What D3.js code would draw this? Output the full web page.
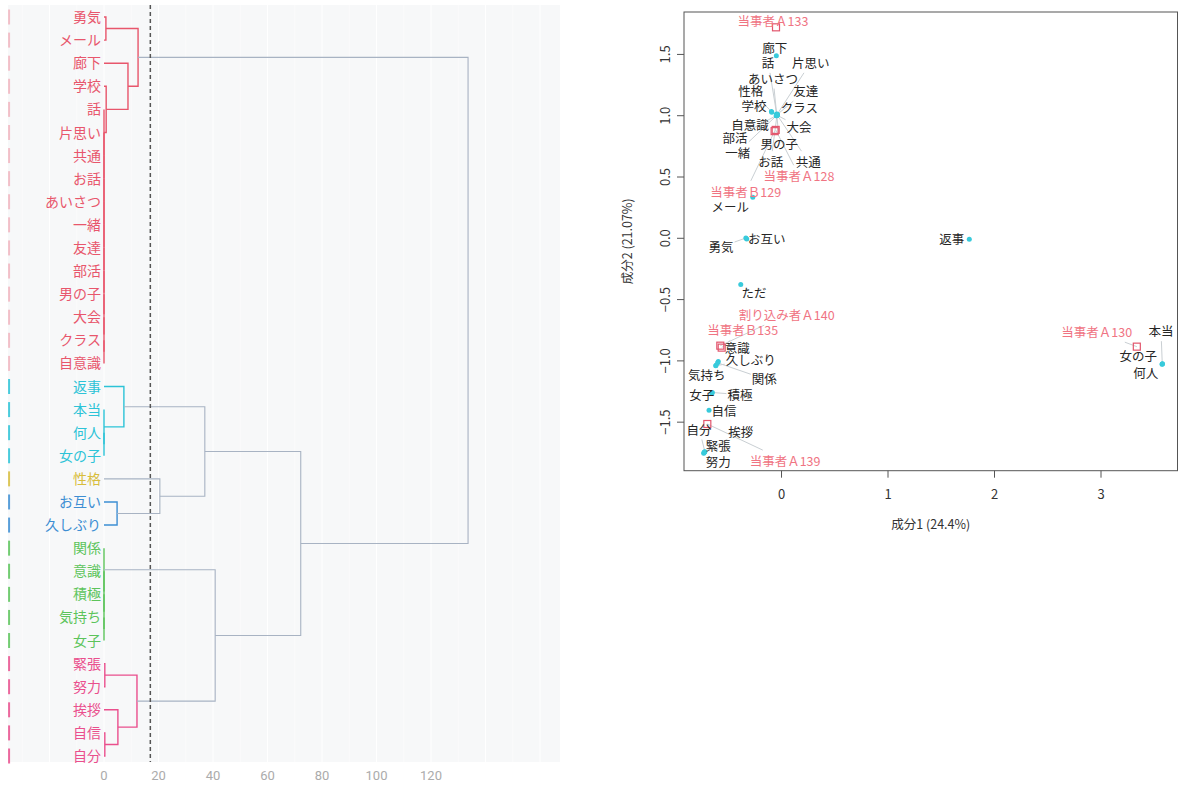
<!DOCTYPE html>
<html>
<head>
<meta charset="utf-8">
<script src="https://cdn.jsdelivr.net/npm/d3@7"></script>
<style>
  body { margin: 0; background: #ffffff; }
  svg { display: block; }
</style>
</head>
<body>
<svg id="chart" width="1180" height="785"></svg>
<script>
// ---------- Dendrogram data (leaf order top to bottom) ----------
const leaves = [
  "勇気", "メール", "廊下", "学校", "話", "片思い", "共通", "お話", "あいさつ",
  "一緒", "友達", "部活", "男の子", "大会", "クラス", "自意識",
  "返事", "本当", "何人", "女の子",
  "性格",
  "お互い", "久しぶり",
  "関係", "意識", "積極", "気持ち", "女子",
  "緊張", "努力", "挨拶", "自信", "自分"
];
// consecutive leaves per cluster, in leaf order
const clusterSizes = [16, 4, 1, 2, 5, 5];
const clusterColors = ["#E8566C", "#2CC3D7", "#D8BD3C", "#3D8ED3", "#5CC45B", "#EA4F8D"];
// merge list: [left, right, height]; strings are leaves, numbers refer to earlier merges
const merges = [
  ["クラス", "自意識", 0],   // 0
  ["大会", 0, 0],            // 1
  ["男の子", 1, 0],          // 2
  ["部活", 2, 0],            // 3
  ["友達", 3, 0],            // 4
  ["一緒", 4, 0],            // 5
  ["あいさつ", 5, 0],        // 6
  ["お話", 6, 0],            // 7
  ["共通", 7, 0],            // 8
  ["片思い", 8, 0],          // 9
  ["話", 9, 0],              // 10
  ["学校", 10, 0.8],         // 11
  ["廊下", 11, 8.8],         // 12
  ["勇気", "メール", 0.7],   // 13
  [13, 12, 12.5],            // 14
  ["何人", "女の子", 0],     // 15
  ["本当", 15, 0],           // 16
  ["返事", 16, 7.3],         // 17
  ["お互い", "久しぶり", 4.8], // 18
  ["性格", 18, 20.5],        // 19
  [17, 19, 37.0],            // 20
  ["気持ち", "女子", 0],     // 21
  ["積極", 21, 0],           // 22
  ["意識", 22, 0],           // 23
  ["関係", 23, 0],           // 24
  ["緊張", "努力", 0.3],     // 25
  ["自信", "自分", 0.3],     // 26
  ["挨拶", 26, 5.1],         // 27
  [25, 27, 12.1],            // 28
  [24, 28, 40.8],            // 29
  [20, 29, 72.2],            // 30
  [14, 30, 133.6]            // 31
];
const heightTicks = [0, 20, 40, 60, 80, 100, 120];
const cutHeight = 17;

// ---------- Correspondence analysis data ----------
const words = [
  "廊下", "話", "片思い", "あいさつ", "性格", "友達", "学校", "クラス", "自意識", "大会",
  "部活", "男の子", "一緒", "お話", "共通", "メール", "お互い", "勇気", "返事", "ただ",
  "意識", "久しぶり", "気持ち", "関係", "女子", "積極", "自信", "自分", "挨拶", "緊張",
  "努力", "本当", "女の子", "何人"
];
const wordDim1 = [
  -0.044, -0.040, -0.036, -0.041, -0.090, -0.035, -0.087, -0.034, -0.045, -0.037,
  -0.042, -0.039, -0.043, -0.038, -0.036, -0.265, -0.322, -0.330, 1.768, -0.378,
  -0.589, -0.613, -0.610, -0.595, -0.650, -0.645, -0.676, -0.715, -0.720, -0.723,
  -0.726, 3.580, 3.578, 3.582
];
const wordDim2 = [
  1.485, 1.005, 1.008, 1.010, 1.030, 1.006, 1.024, 1.003, 0.995, 1.000,
  0.998, 1.002, 0.996, 0.999, 1.001, 0.330, -0.010, -0.002, -0.012, -0.380,
  -1.010, -1.044, -1.040, -1.020, -1.268, -1.262, -1.406, -1.745, -1.748, -1.753,
  -1.758, -1.029, -1.031, -1.027
];
// label anchor positions (repelled layout), in the same component units
const wordLabelDim1 = [
  -0.059, -0.122, 0.279, -0.075, -0.285, 0.232, -0.254, 0.172, -0.291, 0.169,
  -0.432, -0.016, -0.407, -0.097, 0.256, -0.476, -0.134, -0.563, 1.603, -0.254,
  -0.410, -0.285, -0.698, -0.157, -0.745, -0.385, -0.535, -0.770, -0.378, -0.589,
  -0.589, 3.568, 3.355, 3.424
];
const wordLabelDim2 = [
  1.542, 1.423, 1.423, 1.295, 1.192, 1.192, 1.075, 1.056, 0.920, 0.896,
  0.806, 0.765, 0.689, 0.613, 0.613, 0.249, -0.010, -0.081, -0.012, -0.453,
  -0.907, -1.002, -1.127, -1.160, -1.288, -1.288, -1.418, -1.568, -1.590, -1.704,
  -1.834, -0.766, -0.970, -1.105
];

const docs = ["当事者Ａ133", "当事者Ａ128", "当事者Ｂ129", "当事者Ａ130", "割り込み者Ａ140", "当事者Ｂ135", "当事者Ａ139"];
const docDim1 = [-0.047, -0.050, -0.060, 3.341, -0.570, -0.557, -0.692];
const docDim2 = [1.717, 0.880, 0.870, -0.888, -0.880, -0.896, -1.519];
const docLabelDim1 = [-0.075, 0.169, -0.331, 2.964, 0.054, -0.360, 0.038];
const docLabelDim2 = [1.763, 0.498, 0.371, -0.774, -0.635, -0.760, -1.826];

const dim1Ticks = [0, 1, 2, 3];
const dim2Ticks = [-1.5, -1.0, -0.5, 0.0, 0.5, 1.0, 1.5];
const dim1Title = "成分1 (24.4%)";
const dim2Title = "成分2 (21.07%)";

const svg = d3.select("#chart");
const jpFont = "'Noto Sans CJK JP', 'Noto Sans', sans-serif";

// ================= Dendrogram =================
const dx = d3.scaleLinear().domain([0, 120]).range([104, 431]);
const dy = d3.scalePoint().domain(leaves).range([17, 756]);
const panel = { x0: dx(-35.2), x1: dx(167.3), y0: 5, y1: 762 };

const dend = svg.append("g");
dend.append("rect")
  .attr("x", panel.x0).attr("y", panel.y0)
  .attr("width", panel.x1 - panel.x0).attr("height", panel.y1 - panel.y0)
  .attr("fill", "#F7F8F9");

dend.append("g").selectAll("line")
  .data(d3.range(-30, 170, 10))
  .join("line")
  .attr("x1", d => dx(d)).attr("x2", d => dx(d))
  .attr("y1", panel.y0).attr("y2", panel.y1)
  .attr("stroke", "#ffffff")
  .attr("stroke-width", d => d % 20 === 0 ? 1 : 0.5);

// cluster of each leaf
const leafCluster = {};
{
  let k = 0;
  clusterSizes.forEach((n, ci) => { for (let i = 0; i < n; i++) leafCluster[leaves[k++]] = ci; });
}

const nodes = [];
function resolve(ref) {
  if (typeof ref === "string") return { x: dx(0), y: dy(ref), cluster: leafCluster[ref] };
  return nodes[ref];
}
merges.forEach(([a, b, h]) => {
  const A = resolve(a), B = resolve(b);
  const cl = (A.cluster !== null && A.cluster === B.cluster) ? A.cluster : null;
  nodes.push({ x: dx(h), y: (A.y + B.y) / 2, cluster: cl, A, B });
});

// rug marks at the left edge
dend.append("g").selectAll("line")
  .data(leaves)
  .join("line")
  .attr("x1", panel.x0 + 1).attr("x2", panel.x0 + 1)
  .attr("y1", d => dy(d) - 7.5).attr("y2", d => dy(d) + 7.5)
  .attr("stroke", d => clusterColors[leafCluster[d]])
  .attr("stroke-opacity", d => leafCluster[d] === 0 ? 0.35 : 0.85)
  .attr("stroke-width", 2);

// branches: gray above the cut, cluster-coloured inside a cluster
dend.append("g").selectAll("path")
  .data(nodes)
  .join("path")
  .attr("d", n => `M${n.A.x},${n.A.y}H${n.x}V${n.B.y}H${n.B.x}`)
  .attr("fill", "none")
  .attr("stroke", n => n.cluster === null ? "#A8B3C3" : clusterColors[n.cluster])
  .attr("stroke-width", n => n.cluster === null ? 1.1 : 1.4);

// cut line
dend.append("line")
  .attr("x1", dx(cutHeight)).attr("x2", dx(cutHeight))
  .attr("y1", panel.y0).attr("y2", panel.y1)
  .attr("stroke", "#555")
  .attr("stroke-width", 1.5)
  .attr("stroke-dasharray", "4,3");

// leaf labels
dend.append("g").selectAll("text")
  .data(leaves)
  .join("text")
  .attr("x", dx(0) - 3)
  .attr("y", d => dy(d))
  .attr("dy", "0.36em")
  .attr("text-anchor", "end")
  .attr("font-family", jpFont)
  .attr("font-size", 14)
  .attr("fill", d => clusterColors[leafCluster[d]])
  .text(d => d);

// height axis labels
dend.append("g").selectAll("text")
  .data(heightTicks)
  .join("text")
  .attr("x", d => dx(d))
  .attr("y", 775)
  .attr("dy", "0.36em")
  .attr("text-anchor", "middle")
  .attr("font-family", "Roboto, sans-serif")
  .attr("font-size", 13)
  .attr("fill", "#ABABAB")
  .text(d => d);

// ================= Correspondence analysis plot =================
const sx = d3.scaleLinear().domain([-0.911, 3.723]).range([684, 1177.5]);
const sy = d3.scaleLinear().domain([-1.900, 1.842]).range([470.7, 12]);

const ca = svg.append("g");
ca.append("rect")
  .attr("x", sx.range()[0]).attr("y", sy.range()[1])
  .attr("width", sx.range()[1] - sx.range()[0])
  .attr("height", sy.range()[0] - sy.range()[1])
  .attr("fill", "none").attr("stroke", "#555").attr("stroke-width", 1);

const xAxis = ca.append("g")
  .attr("transform", `translate(0,${sy.range()[0]})`)
  .call(d3.axisBottom(sx).tickValues(dim1Ticks).tickSize(7).tickPadding(12).tickFormat(d3.format("d")));
xAxis.select(".domain").remove();

const yAxis = ca.append("g")
  .attr("transform", `translate(${sx.range()[0]},0)`)
  .call(d3.axisLeft(sy).tickValues(dim2Ticks).tickSize(7).tickFormat(d3.format(".1f")));
yAxis.select(".domain").remove();
yAxis.selectAll("text")
  .attr("x", 0).attr("y", -14).attr("dy", 0)
  .attr("text-anchor", "middle")
  .attr("transform", "rotate(-90)");

[xAxis, yAxis].forEach(g => {
  g.selectAll("line").attr("stroke", "#555");
  g.selectAll("text").attr("font-family", jpFont).attr("font-size", 13).attr("fill", "#333");
});

ca.append("text")
  .attr("x", (sx.range()[0] + sx.range()[1]) / 2).attr("y", 529)
  .attr("text-anchor", "middle")
  .attr("font-family", jpFont).attr("font-size", 12.5).attr("fill", "#333")
  .text(dim1Title);
ca.append("text")
  .attr("transform", `translate(632,${(sy.range()[0] + sy.range()[1]) / 2}) rotate(-90)`)
  .attr("text-anchor", "middle")
  .attr("font-family", jpFont).attr("font-size", 12.5).attr("fill", "#333")
  .text(dim2Title);

const items = [
  ...words.map((t, i) => ({ t, kind: "word", x: wordDim1[i], y: wordDim2[i], lx: wordLabelDim1[i], ly: wordLabelDim2[i] })),
  ...docs.map((t, i) => ({ t, kind: "doc", x: docDim1[i], y: docDim2[i], lx: docLabelDim1[i], ly: docLabelDim2[i] }))
];

const leaderG = ca.append("g");
const pointG = ca.append("g");
const labelG = ca.append("g");

pointG.selectAll("circle")
  .data(items.filter(d => d.kind === "word"))
  .join("circle")
  .attr("cx", d => sx(d.x)).attr("cy", d => sy(d.y))
  .attr("r", 2.5)
  .attr("fill", "#38CADB");

pointG.selectAll("rect")
  .data(items.filter(d => d.kind === "doc"))
  .join("rect")
  .attr("x", d => sx(d.x) - 3.5).attr("y", d => sy(d.y) - 3.5)
  .attr("width", 7).attr("height", 7)
  .attr("fill", "none")
  .attr("stroke", "#E2566D")
  .attr("stroke-width", 1.2);

const labels = labelG.selectAll("text")
  .data(items)
  .join("text")
  .attr("x", d => sx(d.lx)).attr("y", d => sy(d.ly))
  .attr("dy", "0.36em")
  .attr("text-anchor", "middle")
  .attr("font-family", jpFont)
  .attr("font-size", 12.5)
  .attr("fill", d => d.kind === "doc" ? "#F07483" : "#262626")
  .text(d => d.t);

// leader segments from each point to the edge of its label box
const segs = [];
labels.each(function (d) {
  const b = this.getBBox();
  const px = sx(d.x), py = sy(d.y);
  const cx = b.x + b.width / 2, cy = b.y + b.height / 2;
  const vx = px - cx, vy = py - cy;
  const hx = b.width / 2 + 1, hy = b.height / 2 + 1;
  const tx = vx !== 0 ? hx / Math.abs(vx) : Infinity;
  const ty = vy !== 0 ? hy / Math.abs(vy) : Infinity;
  const t = Math.min(tx, ty);
  if (t >= 1) return;
  const ex = cx + vx * t, ey = cy + vy * t;
  if (Math.hypot(px - ex, py - ey) < 8) return;
  segs.push({ x1: px, y1: py, x2: ex, y2: ey });
});
leaderG.selectAll("line")
  .data(segs)
  .join("line")
  .attr("x1", d => d.x1).attr("y1", d => d.y1)
  .attr("x2", d => d.x2).attr("y2", d => d.y2)
  .attr("stroke", "#C9CFD3")
  .attr("stroke-width", 1);
</script>
</body>
</html>
